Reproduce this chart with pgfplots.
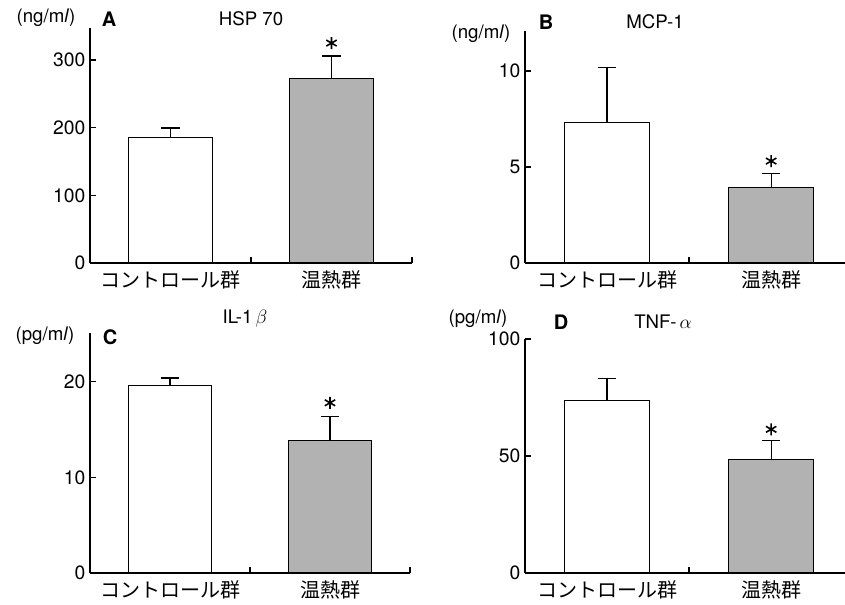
\documentclass[border=0pt]{standalone}
\usepackage{fontspec}
\setmainfont{TeX Gyre Heros}
\newfontfamily\jp{Noto Sans CJK JP}
\usepackage{pgfplots}
\pgfplotsset{compat=1.18}
\definecolor{bargray}{RGB}{178,178,178}
\pgfplotsset{
 panel/.style={
  scale only axis,
  axis x line=bottom, axis y line=left,
  axis line style={-, line width=0.95pt},
  xmin=0, ymin=0,
  tick align=inside,
  major tick length=4.5pt,
  tick style={line width=0.95pt, black},
  xtick={1,2}, xticklabels={},
  extra x ticks={0.5,1.5},
  extra x tick labels={{\jp コントロール群},{\jp 温熱群}},
  extra x tick style={major tick length=0pt, xticklabel style={yshift=-2pt, font=\fontsize{15}{15}\selectfont}},
  yticklabel style={font=\fontsize{14.5}{14.5}\selectfont},
  /pgf/number format/assume math mode=true,
  bar width=0.52, bar shift=0pt,
  clip=false,
 },
 ctrl/.style={ybar, fill=white, draw=black, line width=0.95pt,
  error bars/.cd, y dir=plus, y explicit,
  error bar style={line width=0.95pt},
  error mark options={rotate=90, mark size=7pt, line width=0.95pt}},
 heat/.style={ybar, fill=bargray, draw=black, line width=0.95pt,
  error bars/.cd, y dir=plus, y explicit,
  error bar style={line width=0.95pt},
  error mark options={rotate=90, mark size=7pt, line width=0.95pt}},
 star/.style={only marks, mark=asterisk, mark size=4.5pt, line width=1.2pt, black},
}
\begin{document}
\begin{tikzpicture}
\useasboundingbox (0,0) rectangle (633.75pt,453pt);
% A
\begin{axis}[panel, at={(67.5pt,255.75pt)}, anchor=south west,
  width=241.5pt, height=176.1pt, xmax=2, ymax=347, ytick={0,100,200,300}]
\addplot[ctrl] coordinates {(0.5,186) +- (0,13.5)};
\addplot[heat] coordinates {(1.5,273) +- (0,33)};
\addplot[star] coordinates {(1.5,325)};
\end{axis}
% B
\begin{axis}[panel, at={(393.75pt,255.75pt)}, anchor=south west,
  width=240pt, height=174.2pt, xmax=1.95, ymax=12.1, ytick={0,5,10}]
\addplot[ctrl] coordinates {(0.5,7.32) +- (0,2.85)};
\addplot[heat] coordinates {(1.5,3.95) +- (0,0.7)};
\addplot[star] coordinates {(1.5,5.31)};
\end{axis}
% C
\begin{axis}[panel, at={(67.5pt,23.25pt)}, anchor=south west,
  width=240pt, height=180pt, xmax=2, ymax=25.1, ytick={0,10,20}]
\addplot[ctrl] coordinates {(0.5,19.6) +- (0,0.8)};
\addplot[heat] coordinates {(1.5,13.86) +- (0,2.54)};
\addplot[star] coordinates {(1.5,17.8)};
\end{axis}
% D
\begin{axis}[panel, at={(393.75pt,23.25pt)}, anchor=south west,
  width=240pt, height=175.5pt, xmax=1.95, ymax=100, ytick={0,50,100}]
\addplot[ctrl] coordinates {(0.5,73.7) +- (0,9.5)};
\addplot[heat] coordinates {(1.5,48.4) +- (0,8.1)};
\addplot[star] coordinates {(1.5,61.4)};
\end{axis}
% labels
\begin{scope}[every node/.style={font=\fontsize{14}{14}\selectfont, inner sep=0pt}]
\node at (34.5pt,439.5pt) {(ng/m\textit{l})};
\node[font=\fontsize{15}{15}\selectfont\bfseries] at (81.75pt,438.75pt) {A};
\node at (188.25pt,438.75pt) {HSP 70};
\node at (360.75pt,427.5pt) {(ng/m\textit{l})};
\node[font=\fontsize{15}{15}\selectfont\bfseries] at (409.5pt,436.5pt) {B};
\node at (491.25pt,436.5pt) {MCP-1};
\node at (33.75pt,201pt) {(pg/m\textit{l})};
\node[font=\fontsize{15}{15}\selectfont\bfseries] at (82.5pt,200.25pt) {C};
\node at (183.75pt,213.75pt) {IL-1\,$\beta$};
\node at (358.5pt,213.75pt) {(pg/m\textit{l})};
\node[font=\fontsize{15}{15}\selectfont\bfseries] at (420.75pt,211.5pt) {D};
\node at (497.25pt,211.5pt) {TNF-\,$\alpha$};
\end{scope}
\end{tikzpicture}
\end{document}
